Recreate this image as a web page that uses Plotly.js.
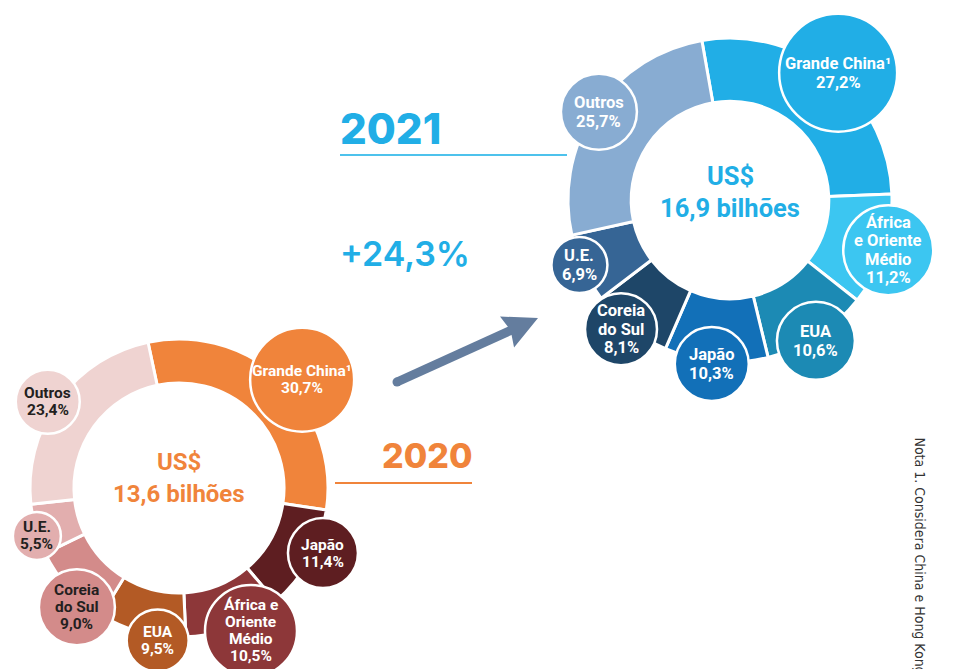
<!DOCTYPE html>
<html><head><meta charset="utf-8">
<script src="https://cdn.plot.ly/plotly-3.0.1.min.js"></script>
<style>html,body{margin:0;padding:0;background:#fff;overflow:hidden}#chart{width:953px;height:669px}</style>
</head><body><div id="chart"></div>
<script>
// ---------------- DATA ----------------
const regions2021 = ["Grande China¹", "África e Oriente Médio", "EUA", "Japão", "Coreia do Sul", "U.E.", "Outros"];
const shares2021 = [27.2, 11.2, 10.6, 10.3, 8.1, 6.9, 25.7];
const labelLines2021 = [["Grande China¹"], ["África", "e Oriente", "Médio"], ["EUA"], ["Japão"], ["Coreia", "do Sul"], ["U.E."], ["Outros"]];

const regions2020 = ["Grande China¹", "Japão", "África e Oriente Médio", "EUA", "Coreia do Sul", "U.E.", "Outros"];
const shares2020 = [30.7, 11.4, 10.5, 9.5, 9.0, 5.5, 23.4];
const labelLines2020 = [["Grande China¹"], ["Japão"], ["África e", "Oriente", "Médio"], ["EUA"], ["Coreia", "do Sul"], ["U.E."], ["Outros"]];

const currency = "US$";
const total2021 = "16,9 bilhões";
const total2020 = "13,6 bilhões";
const growthLabel = "+24,3%";
const year2021 = "2021";
const year2020 = "2020";
const noteText = "Nota 1. Considera China e Hong Kong";

// ---------------- LAYOUT / STYLE ----------------
const W = 953, H = 669;
const LABELFONT = "Roboto, 'Liberation Sans', sans-serif";
const NOTEFONT = "'DejaVu Sans Condensed', 'Liberation Sans', sans-serif";
const HEAVY = "Inter, 'Open Sans', sans-serif";

const charts = [
  {
    regions: regions2021, shares: shares2021, lines: labelLines2021, total: total2021,
    colors: ["#21aee6", "#3cc6f1", "#1c8ab4", "#1270b8", "#1e4668", "#366595", "#88acd2"],
    textColors: ["#fff", "#fff", "#fff", "#fff", "#fff", "#fff", "#fff"],
    cx: 730, cy: 200, r: 162, hole: 0.61, rot: -10,
    bubbleR: [59, 45, 39, 37, 36, 28, 38],
    dist: [167, 166, 165, 165, 169, 164, 158],
    nudge: [1.4, -0.5, 1.3, 1.4, 2.1, 1.6, 0.2],
    accent: "#21aee6", cTop: -24, cBot: 8, cSize: 25.5, lineH: 18.5, bSize: 16.5
  },
  {
    regions: regions2020, shares: shares2020, lines: labelLines2020, total: total2020,
    colors: ["#f0843b", "#5e1e21", "#8d3739", "#b35a25", "#d38b8a", "#e2aeae", "#efd3d1"],
    textColors: ["#fff", "#fff", "#fff", "#fff", "#231f20", "#231f20", "#231f20"],
    cx: 179, cy: 488, r: 149, hole: 0.705, rot: -12,
    bubbleR: [52, 35, 46, 31, 38, 24, 32],
    dist: [164, 158, 160, 154, 157, 150, 157],
    nudge: [5.4, -4.7, -5.2, -6.5, -7.2, -2.5, -2.6],
    accent: "#f0843b", cTop: -26, cBot: 6, cSize: 24, lineH: 17, bSize: 15.5
  }
];

const fmtPct = v => v.toFixed(1).replace(".", ",") + "%";

const traces = [];
const shapes = [];
const annotations = [];
const bx = [], by = [];

charts.forEach(c => {
  traces.push({
    type: "pie",
    values: c.shares,
    labels: c.regions,
    sort: false,
    direction: "clockwise",
    rotation: c.rot,
    hole: c.hole,
    textinfo: "none",
    hoverinfo: "skip",
    showlegend: false,
    marker: { colors: c.colors, line: { color: "#ffffff", width: 3 } },
    domain: {
      x: [(c.cx - c.r) / W, (c.cx + c.r) / W],
      y: [1 - (c.cy + c.r) / H, 1 - (c.cy - c.r) / H]
    }
  });

  const tot = c.shares.reduce((a, b) => a + b, 0);
  let cum = 0;
  c.shares.forEach((v, i) => {
    const mid = c.rot + (cum + v / 2) / tot * 360 + c.nudge[i];
    cum += v;
    const a = mid * Math.PI / 180;
    const x = c.cx + c.dist[i] * Math.sin(a);
    const y = c.cy - c.dist[i] * Math.cos(a);
    bx.push(x); by.push(y);
    const br = c.bubbleR[i];
    shapes.push({
      type: "circle", xref: "x", yref: "y", layer: "above",
      x0: x - br, x1: x + br, y0: y - br, y1: y + br,
      fillcolor: c.colors[i], line: { color: "#ffffff", width: 2.5 }
    });
    const txt = c.lines[i].concat([fmtPct(v)]);
    const n = txt.length;
    txt.forEach((t, k) => {
      annotations.push({
        xref: "x", yref: "y", x: x, y: y + (k - (n - 1) / 2) * c.lineH,
        text: t, showarrow: false, xanchor: "center", yanchor: "middle",
        font: { family: LABELFONT, size: c.bSize, weight: 700, color: c.textColors[i] }
      });
    });
  });

  annotations.push({
    xref: "x", yref: "y", x: c.cx, y: c.cy + c.cTop, text: currency, showarrow: false,
    xanchor: "center", yanchor: "middle",
    font: { family: LABELFONT, size: c.cSize, weight: 700, color: c.accent }
  });
  annotations.push({
    xref: "x", yref: "y", x: c.cx, y: c.cy + c.cBot, text: c.total, showarrow: false,
    xanchor: "center", yanchor: "middle",
    font: { family: LABELFONT, size: c.cSize, weight: 700, color: c.accent }
  });
});

// year headings, growth, rules
annotations.push({
  xref: "x", yref: "y", x: 338, y: 128, text: year2021, showarrow: false,
  xanchor: "left", yanchor: "middle",
  font: { family: HEAVY, size: 42, weight: 800, color: "#21aee6" }
});
annotations.push({
  xref: "x", yref: "y", x: 338, y: 253, text: growthLabel, showarrow: false,
  xanchor: "left", yanchor: "middle",
  font: { family: HEAVY, size: 34, weight: 600, color: "#21aee6" }
});
annotations.push({
  xref: "x", yref: "y", x: 474, y: 455, text: year2020, showarrow: false,
  xanchor: "right", yanchor: "middle",
  font: { family: HEAVY, size: 34, weight: 800, color: "#f0843b" }
});
annotations.push({
  xref: "x", yref: "y", x: 920, y: 435, text: noteText, showarrow: false,
  textangle: 90, xanchor: "center", yanchor: "top",
  font: { family: NOTEFONT, size: 14, color: "#333333" }
});

shapes.push({ type: "line", xref: "x", yref: "y", x0: 340, x1: 567, y0: 155, y1: 155, line: { color: "#4dc2ec", width: 2 }, layer: "above" });
shapes.push({ type: "line", xref: "x", yref: "y", x0: 335, x1: 472, y0: 483, y1: 483, line: { color: "#f0843b", width: 2 }, layer: "above" });

// arrow from 2020 to 2021
const tail = [397, 382], tip = [538, 318];
const dx = tip[0] - tail[0], dy = tip[1] - tail[1];
const len = Math.hypot(dx, dy);
const ux = dx / len, uy = dy / len, nx = -uy, ny = ux;
const headL = 34, headW = 17;
const baseX = tip[0] - headL * ux, baseY = tip[1] - headL * uy;
const arrowCol = "#647d9e";
shapes.push({ type: "line", xref: "x", yref: "y", x0: tail[0], y0: tail[1], x1: baseX + 6 * ux, y1: baseY + 6 * uy, line: { color: arrowCol, width: 9 }, layer: "above" });
shapes.push({ type: "circle", xref: "x", yref: "y", x0: tail[0] - 4.5, x1: tail[0] + 4.5, y0: tail[1] - 4.5, y1: tail[1] + 4.5, fillcolor: arrowCol, line: { width: 0 }, layer: "above" });
shapes.push({
  type: "path", xref: "x", yref: "y", layer: "above",
  path: `M${tip[0]},${tip[1]} L${baseX + headW * nx},${baseY + headW * ny} L${baseX + 4 * ux},${baseY + 4 * uy} L${baseX - headW * nx},${baseY - headW * ny} Z`,
  fillcolor: arrowCol, line: { width: 0 }
});

// invisible anchor trace so the overlay cartesian axes exist
traces.push({
  type: "scatter", x: bx, y: by, mode: "markers", marker: { opacity: 0, size: 1 },
  hoverinfo: "skip", showlegend: false, xaxis: "x", yaxis: "y"
});

const layout = {
  width: W, height: H,
  margin: { l: 0, r: 0, t: 0, b: 0, pad: 0 },
  paper_bgcolor: "#ffffff", plot_bgcolor: "rgba(0,0,0,0)",
  showlegend: false, hovermode: false,
  xaxis: { range: [0, W], visible: false, fixedrange: true, domain: [0, 1] },
  yaxis: { range: [H, 0], visible: false, fixedrange: true, domain: [0, 1] },
  shapes: shapes, annotations: annotations
};

Plotly.newPlot("chart", traces, layout, { displayModeBar: false, staticPlot: true });
</script>
</body></html>
